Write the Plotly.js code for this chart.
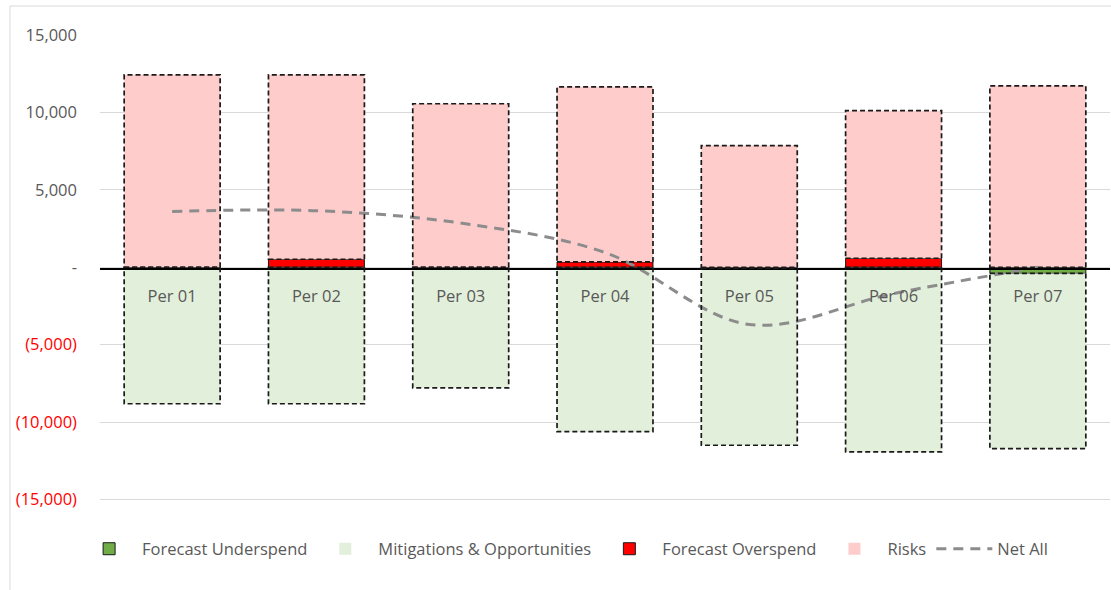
<!DOCTYPE html>
<html>
<head>
<meta charset="utf-8">
<script src="https://cdn.plot.ly/plotly-3.0.1.min.js"></script>
<style>html,body{margin:0;padding:0;background:#fff;}#chart{width:1111px;height:590px;}</style>
</head>
<body>
<div id="chart"></div>
<script>
const categories = ['Per 01', 'Per 02', 'Per 03', 'Per 04', 'Per 05', 'Per 06', 'Per 07'];
const underspend = [0, 0, 0, 0, -80, 0, -400];
const mitigations = [-8820, -8820, -7790, -10620, -11420, -11930, -11320];
const overspend = [0, 515, 0, 340, 0, 580, 0];
const risks = [12430, 11915, 10560, 11315, 7856, 9530, 11720];
const netAll = [3600, 3650, 2850, 950, -3700, -1700, 0];

const yTickVals = [-15000, -10000, -5000, 0, 5000, 10000, 15000];
const yTickText = ['(15,000)', '(10,000)', '(5,000)', '-', '5,000', '10,000', '15,000'];

const FONT = 'Open Sans, Noto Sans, sans-serif';
const half = 0.3325;

const traces = [
  {type: 'bar', name: 'Forecast Underspend', x: categories, y: underspend,
   marker: {color: '#70AD47', line: {color: '#1a1a1a', width: 1}}},
  {type: 'bar', name: 'Mitigations & Opportunities', x: categories, y: mitigations,
   marker: {color: '#E2EFDA', line: {width: 0}}},
  {type: 'bar', name: 'Forecast Overspend', x: categories, y: overspend,
   marker: {color: '#FF0000', line: {color: '#1a1a1a', width: 1}}},
  {type: 'bar', name: 'Risks', x: categories, y: risks,
   marker: {color: '#FFCCCC', line: {width: 0}}},
  {type: 'scatter', mode: 'lines', name: 'Net All', x: categories, y: netAll,
   line: {color: '#8C8C8C', width: 3, dash: '10px,7px', shape: 'spline', smoothing: 1}}
];

const shapes = [];
// chart outer border
shapes.push({type: 'rect', xref: 'paper', yref: 'paper', x0: -0.0891, x1: 1.2, y0: -0.3, y1: 1.0622,
  line: {color: '#D9D9D9', width: 1}, fillcolor: 'rgba(0,0,0,0)', layer: 'below'});
// dashed outlines for risks and mitigations
categories.forEach((c, i) => {
  [[overspend[i], overspend[i] + risks[i]], [underspend[i], underspend[i] + mitigations[i]]].forEach(([a, b]) => {
    shapes.push({type: 'rect', xref: 'x', yref: 'y', x0: i - half, x1: i + half, y0: a, y1: b,
      line: {color: '#1a1a1a', width: 1.7, dash: '5px,3px'}, fillcolor: 'rgba(0,0,0,0)', layer: 'above'});
  });
});

const layout = {
  width: 1111, height: 590,
  margin: {l: 100, r: 1, t: 35, b: 89},
  paper_bgcolor: '#ffffff', plot_bgcolor: '#ffffff',
  barmode: 'relative', bargap: 0.335,
  font: {family: FONT, size: 17, color: '#595959'},
  showlegend: true,
  legend: {orientation: 'h', x: 0.46, xanchor: 'center', y: -0.103, yanchor: 'middle',
    font: {family: FONT, size: 16.5, color: '#595959'}, traceorder: 'normal', itemwidth: 56},
  xaxis: {type: 'category', anchor: 'free', position: 0.5, showline: true, linecolor: '#000000', linewidth: 1.5,
    showgrid: false, zeroline: false, ticks: '', ticklabelstandoff: 13,
    tickfont: {family: FONT, size: 16.5, color: '#595959'}, range: [-0.5, 6.5], fixedrange: true},
  yaxis: {range: [-15100, 15000], tickvals: yTickVals, ticktext: yTickText.map((t, i) =>
      yTickVals[i] < 0 ? '<span style="color:#FF0000">' + t + '</span>' : t),
    showgrid: true, gridcolor: '#D9D9D9', gridwidth: 1, zeroline: false, showline: false,
    ticks: '', ticklabelstandoff: 22, tickfont: {family: FONT, size: 16.5, color: '#595959'}},
  shapes: shapes,
  hovermode: false
};

Plotly.newPlot('chart', traces, layout, {displayModeBar: false, staticPlot: true});
</script>
</body>
</html>
